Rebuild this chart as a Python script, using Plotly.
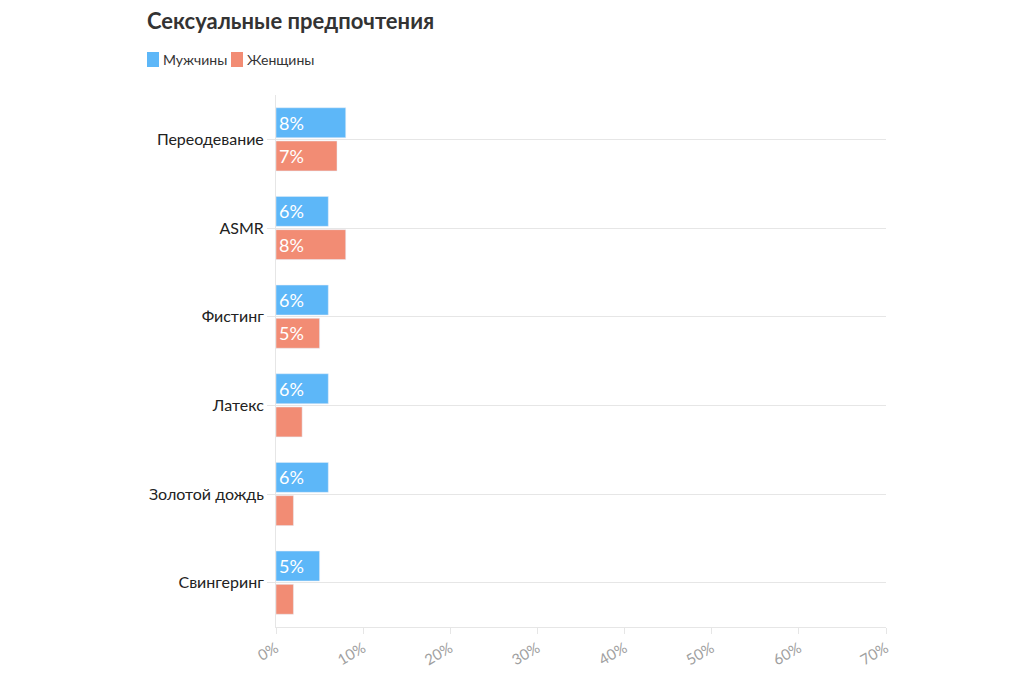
import plotly.graph_objects as go

categories = ["Переодевание", "ASMR", "Фистинг", "Латекс", "Золотой дождь", "Свингеринг"]
men = [8, 6, 6, 6, 6, 5]
women = [7, 8, 5, 3, 2, 2]
series_names = ["Мужчины", "Женщины"]
series_colors = ["#5db7f8", "#f28c74"]
x_ticks = [0, 10, 20, 30, 40, 50, 60, 70]
x_ticklabels = [f"{v}%" for v in x_ticks]

def labels(vals):
    return [f"{v}%" if v >= 5 else "" for v in vals]

fig = go.Figure()
for name, vals, col in zip(series_names, [men, women], series_colors):
    fig.add_trace(go.Bar(y=categories, x=vals, orientation="h", name=name,
                         marker=dict(color=col), text=labels(vals),
                         textposition="inside", insidetextanchor="start",
                         textfont=dict(color="white", size=18, family="Lato"),
                         hoverinfo="x+y", showlegend=False))

W, H = 1024, 691
L, R, T, B = 276, 138, 95, 64
pw, ph = W - L - R, H - T - B

def px(x):
    return (x - L) / pw

def py(y):
    return 1 - (y - T) / ph

# custom compact legend
legend_items = [(147, 161), (231, 245)]
shapes = []
annotations = []
for (sx, tx), name, col in zip(legend_items, series_names, series_colors):
    x0, x1 = px(sx), px(sx + 12)
    y0, y1 = py(67), py(52)
    shapes.append(dict(type="rect", xref="paper", yref="paper", x0=x0, x1=x1, y0=y0, y1=y1,
                       fillcolor=col, line=dict(width=0)))
    annotations.append(dict(text=name, xref="paper", yref="paper", x=px(tx), y=py(60),
                            xanchor="left", yanchor="middle", showarrow=False,
                            font=dict(size=14, color="#333333", family="Lato")))

fig.update_layout(
    width=W, height=H,
    margin=dict(l=L, r=R, t=T, b=B),
    paper_bgcolor="white", plot_bgcolor="white",
    barmode="group", bargap=0.25, bargroupgap=0.1,
    font=dict(family="Lato", color="#333333"),
    title=dict(text="<b>Сексуальные предпочтения</b>", x=147/1024, xanchor="left",
               xref="container", yref="container", y=1-21/691, yanchor="middle",
               font=dict(size=22, color="#333333", family="Lato")),
    shapes=shapes, annotations=annotations,
    showlegend=False,
    uniformtext=dict(mode="show", minsize=8),
)
fig.update_xaxes(range=[0, 70], tickvals=x_ticks, ticktext=x_ticklabels, tickangle=-30,
                 showgrid=False, zeroline=False, showline=True, linecolor="#e6e6e6",
                 ticks="outside", ticklen=6, tickcolor="#e6e6e6",
                 tickfont=dict(size=15, color="#a0a0a0"), fixedrange=True)
fig.update_yaxes(autorange="reversed", showgrid=True, gridcolor="#e6e6e6",
                 showline=True, linecolor="#e6e6e6", ticks="outside", ticklen=8,
                 tickcolor="#e6e6e6", tickfont=dict(size=16, color="#222222"),
                 fixedrange=True)

fig.write_html("out.html")
